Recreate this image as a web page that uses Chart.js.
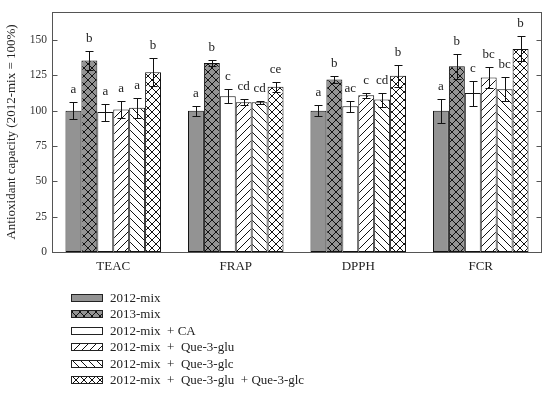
<!DOCTYPE html>
<html>
<head>
<meta charset="utf-8">
<script src="https://cdn.jsdelivr.net/npm/chart.js@4"></script>
<style>
  html, body { margin: 0; padding: 0; background: #fff; }
  #wrap { width: 550px; height: 394px; }
</style>
</head>
<body>
<div id="wrap"><canvas id="myBarChart" width="550" height="394"></canvas></div>
<script>
// categories and series
const categories = ["TEAC", "FRAP", "DPPH", "FCR"];
const seriesLabels = [
  "2012-mix",
  "2013-mix",
  "2012-mix  + CA",
  "2012-mix  +  Que-3-glu",
  "2012-mix  +  Que-3-glc",
  "2012-mix  +  Que-3-glu  + Que-3-glc"
];
const yTicks = [0, 25, 50, 75, 100, 125, 150];

// values (% of 2012-mix)
const v2012 = [100, 100, 100, 100];
const v2013 = [135.6, 133.8, 122.2, 131.5];
const vCA = [99.1, 110.2, 103.2, 112.5];
const vGlu = [100.9, 106, 110.9, 123.6];
const vGlc = [102.1, 106, 107.9, 115.3];
const vBoth = [127.3, 117, 124.8, 143.8];

// error bars (+/-)
const e2012 = [6, 3.5, 4, 8.5];
const e2013 = [7, 2, 2.3, 8.8];
const eCA = [6, 5, 4, 8.8];
const eGlu = [6.3, 2, 1.6, 7.4];
const eGlc = [7, 1, 5, 8.3];
const eBoth = [10, 3.4, 7.8, 8.8];

// significance letters
const l2012 = ["a", "a", "a", "a"];
const l2013 = ["b", "b", "b", "b"];
const lCA = ["a", "c", "ac", "c"];
const lGlu = ["a", "cd", "c", "bc"];
const lGlc = ["a", "cd", "cd", "bc"];
const lBoth = ["b", "ce", "b", "b"];

const values = [v2012, v2013, vCA, vGlu, vGlc, vBoth];
const errors = [e2012, e2013, eCA, eGlu, eGlc, eBoth];
const letters = [l2012, l2013, lCA, lGlu, lGlc, lBoth];

const SERIF = "'Liberation Serif', 'Times New Roman', serif";
const AXIS = "#555";

// hatch fills
function makePattern(bg, kind) {
  const w = 8, h = 8;
  const c = document.createElement("canvas");
  c.width = w; c.height = h;
  const g = c.getContext("2d");
  g.fillStyle = bg;
  g.fillRect(0, 0, w, h);
  g.strokeStyle = "#111";
  g.lineWidth = 1;
  g.beginPath();
  if (kind === "fwd" || kind === "cross") {
    g.moveTo(-1, h + 1); g.lineTo(w + 1, -1);
    g.moveTo(-1, 1); g.lineTo(1, -1);
    g.moveTo(w - 1, h + 1); g.lineTo(w + 1, h - 1);
  }
  if (kind === "back" || kind === "cross") {
    g.moveTo(-1, -1); g.lineTo(w + 1, h + 1);
    g.moveTo(w - 1, -1); g.lineTo(w + 1, 1);
    g.moveTo(-1, h - 1); g.lineTo(1, h + 1);
  }
  g.stroke();
  return g.createPattern(c, "repeat");
}

const fills = [
  "#939393",
  makePattern("#939393", "cross"),
  "#ffffff",
  makePattern("#ffffff", "fwd"),
  makePattern("#ffffff", "back"),
  makePattern("#ffffff", "cross")
];

// error bars, letters, frame, ticks and legend
const extrasPlugin = {
  id: "extras",
  afterDatasetsDraw(chart) {
    const ctx = chart.ctx;
    const y = chart.scales.y;
    ctx.save();
    chart.data.datasets.forEach((ds, i) => {
      const meta = chart.getDatasetMeta(i);
      meta.data.forEach((bar, j) => {
        const v = ds.data[j];
        const e = errors[i][j];
        const x = Math.round(bar.x) + 0.5;
        const yt = Math.round(y.getPixelForValue(v + e)) + 0.5;
        const yb = Math.round(y.getPixelForValue(v - e)) + 0.5;
        ctx.strokeStyle = "#111";
        ctx.lineWidth = 1;
        ctx.beginPath();
        ctx.moveTo(x, yt); ctx.lineTo(x, yb);
        ctx.moveTo(x - 4, yt); ctx.lineTo(x + 4, yt);
        ctx.moveTo(x - 4, yb); ctx.lineTo(x + 4, yb);
        ctx.stroke();
        ctx.fillStyle = "#222";
        ctx.font = "13px " + SERIF;
        ctx.textAlign = "center";
        ctx.textBaseline = "alphabetic";
        ctx.fillText(letters[i][j], bar.x, yt - 10);
      });
    });
    ctx.restore();
  },
  afterDraw(chart) {
    const ctx = chart.ctx;
    const a = chart.chartArea;
    const y = chart.scales.y;
    const L = Math.round(a.left) + 0.5, R = Math.round(a.right) - 0.5;
    const T = Math.round(a.top) + 0.5, B = Math.round(a.bottom) + 0.5;
    ctx.save();
    ctx.strokeStyle = AXIS;
    ctx.lineWidth = 1;
    ctx.strokeRect(L, T, R - L, B - T);
    ctx.beginPath();
    yTicks.forEach(t => {
      const py = Math.round(y.getPixelForValue(t)) + 0.5;
      ctx.moveTo(L, py); ctx.lineTo(L + 5, py);
      ctx.moveTo(R, py); ctx.lineTo(R - 5, py);
    });
    ctx.stroke();

    // legend
    const x0 = 71, rowY = 297.5, step = 16.4;
    chart.data.datasets.forEach((ds, i) => {
      const cy = rowY + i * step;
      ctx.fillStyle = ds.backgroundColor;
      ctx.fillRect(x0, Math.round(cy - 3.5), 31, 7);
      ctx.strokeStyle = "#222";
      ctx.strokeRect(x0 + 0.5, Math.round(cy - 3.5) + 0.5, 31, 7);
      ctx.fillStyle = "#222";
      ctx.font = "13px " + SERIF;
      ctx.textAlign = "left";
      ctx.textBaseline = "middle";
      ctx.fillText(ds.label, 110, cy + 1);
    });
    ctx.restore();
  }
};

function createBarChart() {
  const ctx = document.getElementById("myBarChart").getContext("2d");

  new Chart(ctx, {
    type: "bar",
    data: {
      labels: categories,
      datasets: values.map((vals, i) => ({
        label: seriesLabels[i],
        data: vals,
        backgroundColor: fills[i],
        borderColor: "#111",
        borderWidth: 1,
        borderSkipped: false,
        categoryPercentage: 0.78,
        barPercentage: 1
      }))
    },
    options: {
      responsive: false,
      animation: false,
      layout: { padding: { top: 7, right: 8, left: 0, bottom: 0 } },
      plugins: {
        legend: { display: false },
        tooltip: { enabled: false }
      },
      scales: {
        x: {
          grid: { display: false, drawTicks: false },
          border: { display: false },
          ticks: { font: { family: SERIF, size: 13 }, color: "#222", padding: 7 },
          afterFit(scale) { scale.height = 142; }
        },
        y: {
          min: 0,
          max: 170,
          grid: { display: false, drawTicks: false },
          border: { display: false },
          afterBuildTicks(scale) {
            scale.ticks = yTicks.map(v => ({ value: v }));
          },
          ticks: { font: { family: SERIF, size: 11.5 }, color: "#333", padding: 5 },
          title: {
            display: true,
            text: "Antioxidant capacity (2012-mix = 100%)",
            font: { family: SERIF, size: 13 },
            color: "#222"
          },
          afterFit(scale) { scale.width = 52; }
        }
      }
    },
    plugins: [extrasPlugin]
  });
}

document.addEventListener("DOMContentLoaded", function () {
  createBarChart();
});
</script>
</body>
</html>
